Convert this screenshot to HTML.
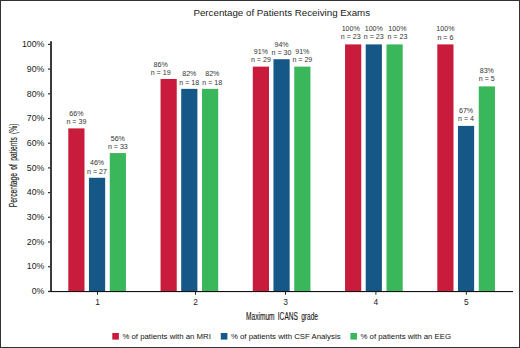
<!DOCTYPE html><html><head><meta charset="utf-8"><style>html,body{margin:0;padding:0;background:#fff;}svg{display:block;}text{font-family:"Liberation Sans",sans-serif;}</style></head><body>
<svg width="520" height="348" viewBox="0 0 520 348">
<rect x="0" y="0" width="520" height="348" fill="#fff"/>
<rect x="0.5" y="0.5" width="519" height="347" fill="none" stroke="#333" stroke-width="1"/>
<text x="281.75" y="15.8" font-size="9.75" text-anchor="middle" fill="#1a1a1a">Percentage of Patients Receiving Exams</text>
<rect x="68.30" y="128.38" width="16.2" height="163.52" fill="#c91c3d"/>
<rect x="160.55" y="78.98" width="16.2" height="212.92" fill="#c91c3d"/>
<rect x="252.80" y="66.63" width="16.2" height="225.27" fill="#c91c3d"/>
<rect x="345.05" y="44.40" width="16.2" height="247.50" fill="#c91c3d"/>
<rect x="437.30" y="44.40" width="16.2" height="247.50" fill="#c91c3d"/>
<rect x="88.95" y="177.78" width="16.2" height="114.12" fill="#155887"/>
<rect x="181.20" y="88.86" width="16.2" height="203.04" fill="#155887"/>
<rect x="273.45" y="59.22" width="16.2" height="232.68" fill="#155887"/>
<rect x="365.70" y="44.40" width="16.2" height="247.50" fill="#155887"/>
<rect x="457.95" y="125.91" width="16.2" height="165.99" fill="#155887"/>
<rect x="109.75" y="153.08" width="16.2" height="138.82" fill="#3ab65b"/>
<rect x="202.00" y="88.86" width="16.2" height="203.04" fill="#3ab65b"/>
<rect x="294.25" y="66.63" width="16.2" height="225.27" fill="#3ab65b"/>
<rect x="386.50" y="44.40" width="16.2" height="247.50" fill="#3ab65b"/>
<rect x="478.75" y="86.39" width="16.2" height="205.51" fill="#3ab65b"/>
<text x="76.40" y="116.00" font-size="7.1" text-anchor="middle" fill="#333">66%</text>
<text x="76.40" y="124.00" font-size="7.1" text-anchor="middle" fill="#333">n = 39</text>
<text x="160.65" y="67.00" font-size="7.1" text-anchor="middle" fill="#333">86%</text>
<text x="160.65" y="75.00" font-size="7.1" text-anchor="middle" fill="#333">n = 19</text>
<text x="260.90" y="53.60" font-size="7.1" text-anchor="middle" fill="#333">91%</text>
<text x="260.90" y="61.70" font-size="7.1" text-anchor="middle" fill="#333">n = 29</text>
<text x="350.75" y="31.00" font-size="7.1" text-anchor="middle" fill="#333">100%</text>
<text x="350.75" y="39.40" font-size="7.1" text-anchor="middle" fill="#333">n = 23</text>
<text x="445.40" y="31.40" font-size="7.1" text-anchor="middle" fill="#333">100%</text>
<text x="445.40" y="39.70" font-size="7.1" text-anchor="middle" fill="#333">n = 6</text>
<text x="97.05" y="165.00" font-size="7.1" text-anchor="middle" fill="#333">46%</text>
<text x="97.05" y="173.70" font-size="7.1" text-anchor="middle" fill="#333">n = 27</text>
<text x="189.30" y="76.00" font-size="7.1" text-anchor="middle" fill="#333">82%</text>
<text x="189.30" y="85.00" font-size="7.1" text-anchor="middle" fill="#333">n = 18</text>
<text x="281.55" y="46.50" font-size="7.1" text-anchor="middle" fill="#333">94%</text>
<text x="281.55" y="54.90" font-size="7.1" text-anchor="middle" fill="#333">n = 30</text>
<text x="373.80" y="31.00" font-size="7.1" text-anchor="middle" fill="#333">100%</text>
<text x="373.80" y="39.40" font-size="7.1" text-anchor="middle" fill="#333">n = 23</text>
<text x="466.05" y="113.00" font-size="7.1" text-anchor="middle" fill="#333">67%</text>
<text x="466.05" y="121.30" font-size="7.1" text-anchor="middle" fill="#333">n = 4</text>
<text x="117.85" y="141.00" font-size="7.1" text-anchor="middle" fill="#333">56%</text>
<text x="117.85" y="149.00" font-size="7.1" text-anchor="middle" fill="#333">n = 33</text>
<text x="212.30" y="76.00" font-size="7.1" text-anchor="middle" fill="#333">82%</text>
<text x="212.30" y="85.00" font-size="7.1" text-anchor="middle" fill="#333">n = 18</text>
<text x="302.35" y="53.60" font-size="7.1" text-anchor="middle" fill="#333">91%</text>
<text x="302.35" y="61.70" font-size="7.1" text-anchor="middle" fill="#333">n = 29</text>
<text x="397.40" y="31.00" font-size="7.1" text-anchor="middle" fill="#333">100%</text>
<text x="397.40" y="39.40" font-size="7.1" text-anchor="middle" fill="#333">n = 23</text>
<text x="486.85" y="73.00" font-size="7.1" text-anchor="middle" fill="#333">83%</text>
<text x="486.85" y="81.30" font-size="7.1" text-anchor="middle" fill="#333">n = 5</text>
<rect x="50" y="41.3" width="2" height="250.7" fill="#3a3a3a"/>
<rect x="48" y="291" width="465" height="1.1" fill="#111"/>
<rect x="48" y="290.80" width="2.5" height="1.2" fill="#333"/>
<text x="44.4" y="294.10" font-size="8.8" text-anchor="end" fill="#222">0%</text>
<rect x="48" y="266.10" width="2.5" height="1.2" fill="#333"/>
<text x="44.4" y="269.40" font-size="8.8" text-anchor="end" fill="#222">10%</text>
<rect x="48" y="241.40" width="2.5" height="1.2" fill="#333"/>
<text x="44.4" y="244.70" font-size="8.8" text-anchor="end" fill="#222">20%</text>
<rect x="48" y="216.70" width="2.5" height="1.2" fill="#333"/>
<text x="44.4" y="220.00" font-size="8.8" text-anchor="end" fill="#222">30%</text>
<rect x="48" y="192.00" width="2.5" height="1.2" fill="#333"/>
<text x="44.4" y="195.30" font-size="8.8" text-anchor="end" fill="#222">40%</text>
<rect x="48" y="167.30" width="2.5" height="1.2" fill="#333"/>
<text x="44.4" y="170.60" font-size="8.8" text-anchor="end" fill="#222">50%</text>
<rect x="48" y="142.60" width="2.5" height="1.2" fill="#333"/>
<text x="44.4" y="145.90" font-size="8.8" text-anchor="end" fill="#222">60%</text>
<rect x="48" y="117.90" width="2.5" height="1.2" fill="#333"/>
<text x="44.4" y="121.20" font-size="8.8" text-anchor="end" fill="#222">70%</text>
<rect x="48" y="93.20" width="2.5" height="1.2" fill="#333"/>
<text x="44.4" y="96.50" font-size="8.8" text-anchor="end" fill="#222">80%</text>
<rect x="48" y="68.50" width="2.5" height="1.2" fill="#333"/>
<text x="44.4" y="71.80" font-size="8.8" text-anchor="end" fill="#222">90%</text>
<rect x="48" y="43.80" width="2.5" height="1.2" fill="#333"/>
<text x="44.4" y="47.10" font-size="8.8" text-anchor="end" fill="#222">100%</text>
<rect x="97.00" y="291.5" width="1" height="3.2" fill="#222"/>
<text x="97.50" y="305" font-size="8.4" text-anchor="middle" fill="#222">1</text>
<rect x="195.00" y="291.5" width="1" height="3.2" fill="#222"/>
<text x="195.50" y="305" font-size="8.4" text-anchor="middle" fill="#222">2</text>
<rect x="285.00" y="291.5" width="1" height="3.2" fill="#222"/>
<text x="285.50" y="305" font-size="8.4" text-anchor="middle" fill="#222">3</text>
<rect x="375.40" y="291.5" width="1" height="3.2" fill="#222"/>
<text x="375.90" y="305" font-size="8.4" text-anchor="middle" fill="#222">4</text>
<rect x="465.80" y="291.5" width="1" height="3.2" fill="#222"/>
<text x="466.30" y="305" font-size="8.4" text-anchor="middle" fill="#222">5</text>
<text transform="translate(282,319.8) scale(0.66,1)" x="0" y="0" font-size="10" word-spacing="2.05" text-anchor="middle" fill="#1a1a1a" stroke="#1a1a1a" stroke-width="0.15">Maximum ICANS grade</text>
<text transform="translate(17.1,165.4) rotate(-90) scale(0.64,1)" x="0" y="0" font-size="10.5" word-spacing="2.3" text-anchor="middle" fill="#1a1a1a" stroke="#1a1a1a" stroke-width="0.15">Percentage of patients (%)</text>
<rect x="112.3" y="333" width="6.6" height="6.6" fill="#c91c3d"/>
<text x="122.40" y="338.6" font-size="7.8" fill="#111">% of patients with an MRI</text>
<rect x="220.8" y="333" width="6.6" height="6.6" fill="#155887"/>
<text x="230.90" y="338.6" font-size="7.8" fill="#111">% of patients with CSF Analysis</text>
<rect x="350.4" y="333" width="6.6" height="6.6" fill="#3ab65b"/>
<text x="360.50" y="338.6" font-size="7.8" fill="#111">% of patients with an EEG</text>
</svg></body></html>
